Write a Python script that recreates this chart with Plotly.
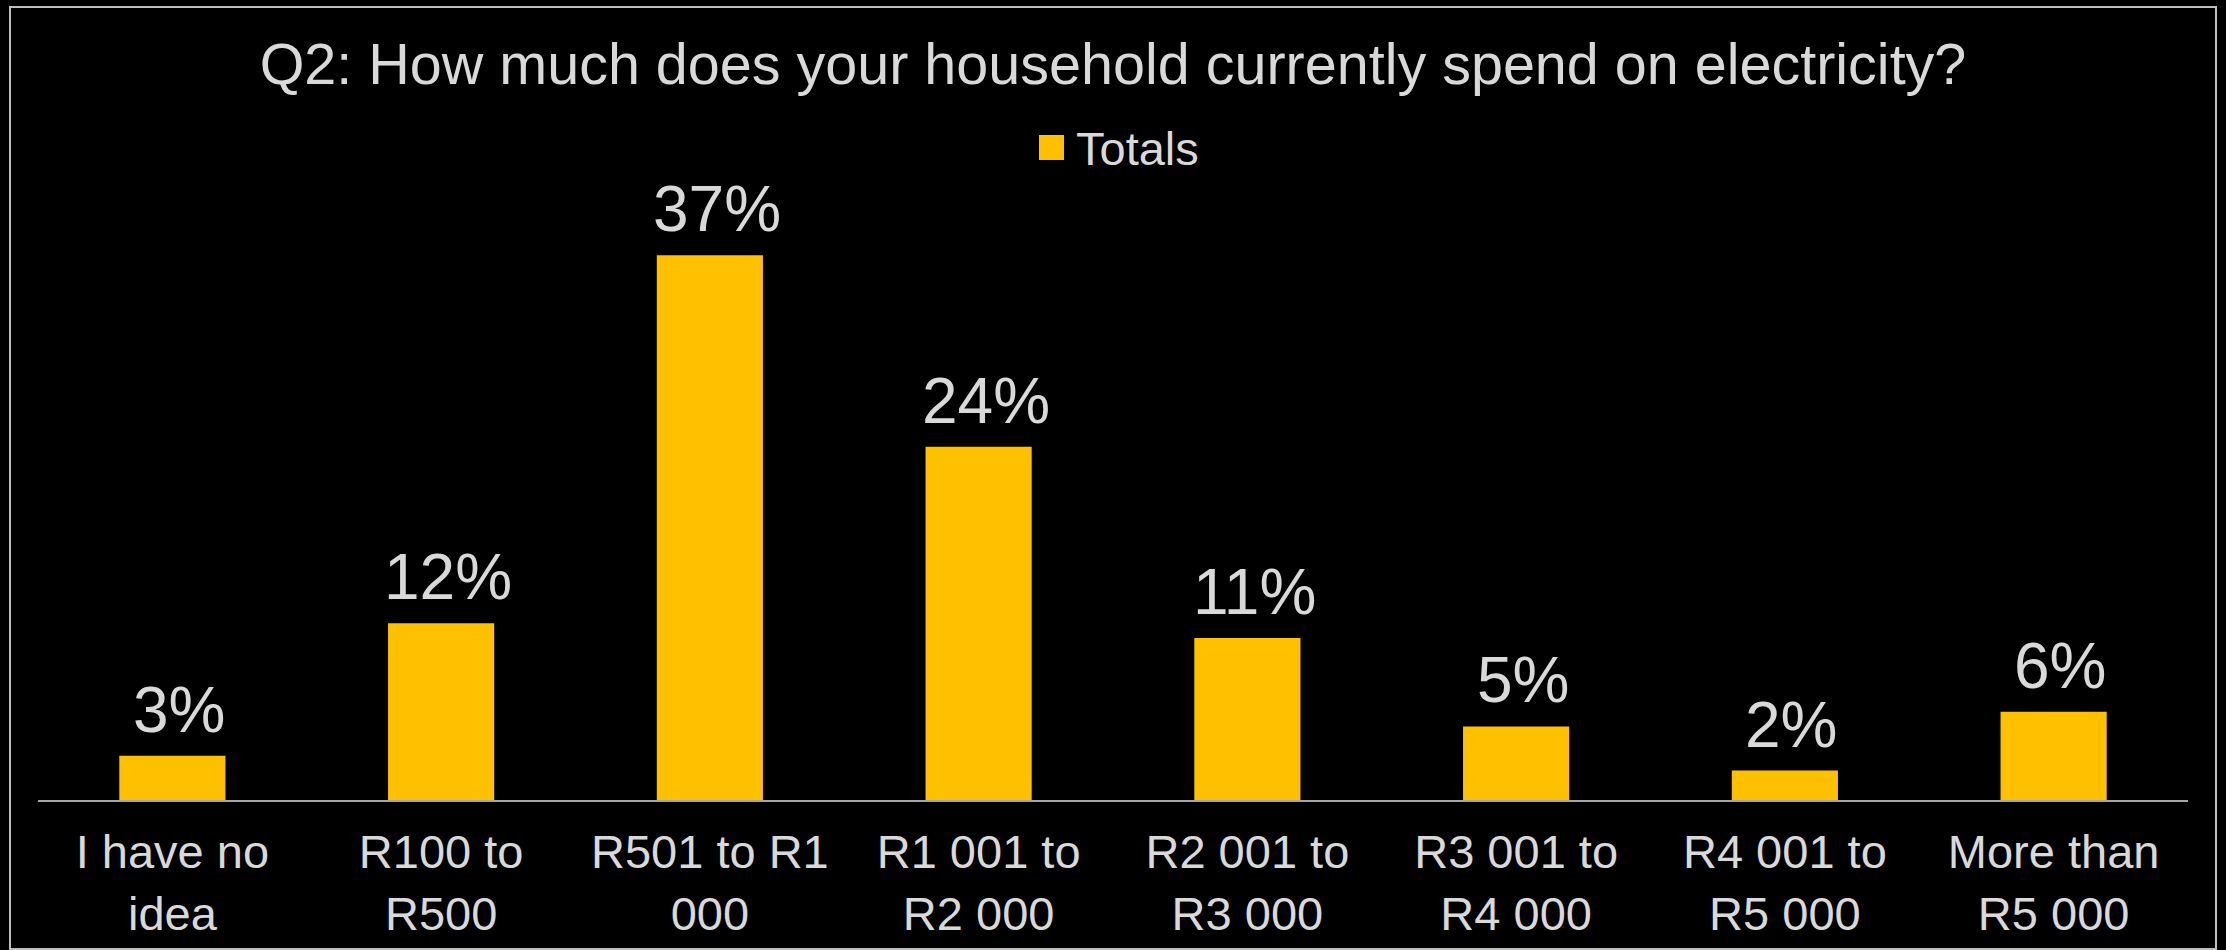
import plotly.graph_objects as go

categories = [
    "I have no<br>idea",
    "R100 to<br>R500",
    "R501 to R1<br>000",
    "R1 001 to<br>R2 000",
    "R2 001 to<br>R3 000",
    "R3 001 to<br>R4 000",
    "R4 001 to<br>R5 000",
    "More than<br>R5 000",
]
totals = [3, 12, 37, 24, 11, 5, 2, 6]
labels = [f"{v}%" for v in totals]
series_name = "Totals"

W, H = 2226, 950
ML, MR, MT, MB = 38, 38, 150, 150
PW, PH = W - ML - MR, H - MT - MB
TEXT = "#d9d9d9"
GOLD = "#FFC000"
FONT = "Liberation Sans, Arial, sans-serif"


def px_x(p):
    """pixel column -> paper x"""
    return (p - ML) / PW


def px_y(p):
    """pixel row -> paper y"""
    return (H - MB - p) / PH


fig = go.Figure()
fig.add_trace(
    go.Bar(
        x=categories,
        y=totals,
        name=series_name,
        marker=dict(color=GOLD, line=dict(width=0)),
        showlegend=False,
    )
)

# value labels above each bar
for cat, val, lab in zip(categories, totals, labels):
    fig.add_annotation(
        x=cat, y=val, xref="x", yref="y", text=lab, showarrow=False,
        yanchor="bottom", yshift=8, xshift=7,
        font=dict(size=64, color=TEXT, family=FONT),
    )

# legend: square swatch plus series name, centred under the title
fig.add_shape(
    type="rect", xref="paper", yref="paper",
    x0=px_x(1039), x1=px_x(1064), y0=px_y(160), y1=px_y(135),
    line=dict(width=0), fillcolor=GOLD,
)
fig.add_annotation(
    xref="paper", yref="paper", x=px_x(1074), y=px_y(148),
    xanchor="left", yanchor="middle", text=series_name, showarrow=False,
    font=dict(size=47, color=TEXT, family=FONT),
)

# outer frame around the whole chart
fig.add_shape(
    type="rect", xref="paper", yref="paper",
    x0=px_x(10), x1=px_x(2216), y0=px_y(949), y1=px_y(7),
    line=dict(color="#bfbfbf", width=2), fillcolor="rgba(0,0,0,0)",
)

fig.update_layout(
    width=W, height=H,
    margin=dict(l=ML, r=MR, t=MT, b=MB, autoexpand=False),
    paper_bgcolor="black", plot_bgcolor="black",
    font=dict(family=FONT, color=TEXT),
    bargap=0.605,
    showlegend=False,
    title=dict(
        text="Q2: How much does your household currently spend on electricity?",
        x=0.5, xanchor="center", y=1 - 64 / H, yanchor="middle",
        font=dict(size=57.5, color=TEXT, family=FONT),
    ),
    xaxis=dict(
        showline=True, linecolor="#a6a6a6", linewidth=2,
        showgrid=False, ticks="", tickangle=0, ticklabelstandoff=10,
        tickfont=dict(size=47, color=TEXT, family=FONT),
    ),
    yaxis=dict(
        range=[0, PH / 14.72], visible=False, showgrid=False, zeroline=False,
    ),
)

fig.write_html("out.html")
